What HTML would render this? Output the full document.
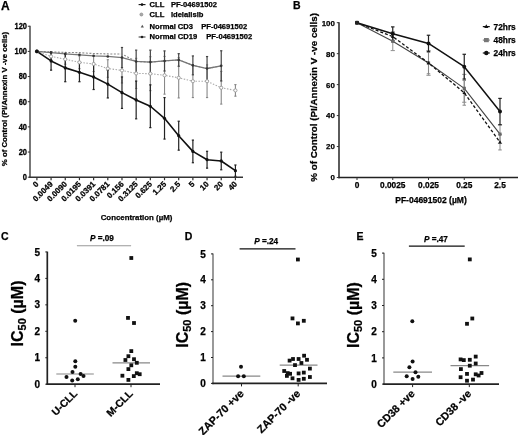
<!DOCTYPE html>
<html><head><meta charset="utf-8"><style>
html,body{margin:0;padding:0;background:#fff;}
svg{display:block;font-family:"Liberation Sans", sans-serif;will-change:transform;}
svg text{stroke:#000;stroke-width:0.25px;}
</style></head><body>
<svg width="520" height="435" viewBox="0 0 520 435">
<rect width="520" height="435" fill="#fff"/>
<text x="1.00" y="10.00" font-size="12" text-anchor="start" font-weight="bold" fill="#000" >A</text>
<line x1="30.00" y1="25.74" x2="30.00" y2="177.95" stroke="#555" stroke-width="1.6" />
<line x1="29.20" y1="177.20" x2="243.00" y2="177.20" stroke="#333" stroke-width="1.6" />
<line x1="27.80" y1="177.20" x2="30.00" y2="177.20" stroke="#333" stroke-width="1" />
<text transform="translate(27.00,180.10) scale(1,1.15)" font-size="7.5" text-anchor="end" font-weight="bold" fill="#000" >0</text>
<line x1="27.80" y1="152.04" x2="30.00" y2="152.04" stroke="#333" stroke-width="1" />
<text transform="translate(27.00,154.94) scale(1,1.15)" font-size="7.5" text-anchor="end" font-weight="bold" fill="#000" >20</text>
<line x1="27.80" y1="126.88" x2="30.00" y2="126.88" stroke="#333" stroke-width="1" />
<text transform="translate(27.00,129.78) scale(1,1.15)" font-size="7.5" text-anchor="end" font-weight="bold" fill="#000" >40</text>
<line x1="27.80" y1="101.72" x2="30.00" y2="101.72" stroke="#333" stroke-width="1" />
<text transform="translate(27.00,104.62) scale(1,1.15)" font-size="7.5" text-anchor="end" font-weight="bold" fill="#000" >60</text>
<line x1="27.80" y1="76.56" x2="30.00" y2="76.56" stroke="#333" stroke-width="1" />
<text transform="translate(27.00,79.46) scale(1,1.15)" font-size="7.5" text-anchor="end" font-weight="bold" fill="#000" >80</text>
<line x1="27.80" y1="51.40" x2="30.00" y2="51.40" stroke="#333" stroke-width="1" />
<text transform="translate(27.00,54.30) scale(1,1.15)" font-size="7.5" text-anchor="end" font-weight="bold" fill="#000" >100</text>
<line x1="27.80" y1="26.24" x2="30.00" y2="26.24" stroke="#333" stroke-width="1" />
<text transform="translate(27.00,29.14) scale(1,1.15)" font-size="7.5" text-anchor="end" font-weight="bold" fill="#000" >120</text>
<line x1="36.90" y1="177.20" x2="36.90" y2="180.20" stroke="#333" stroke-width="1.2" />
<text transform="translate(39.20,184.60) rotate(-45)" font-size="8" font-weight="bold" text-anchor="end">0</text>
<line x1="51.08" y1="177.20" x2="51.08" y2="180.20" stroke="#333" stroke-width="1.2" />
<text transform="translate(53.38,184.60) rotate(-45)" font-size="8" font-weight="bold" text-anchor="end">0.0049</text>
<line x1="65.26" y1="177.20" x2="65.26" y2="180.20" stroke="#333" stroke-width="1.2" />
<text transform="translate(67.56,184.60) rotate(-45)" font-size="8" font-weight="bold" text-anchor="end">0.0090</text>
<line x1="79.44" y1="177.20" x2="79.44" y2="180.20" stroke="#333" stroke-width="1.2" />
<text transform="translate(81.74,184.60) rotate(-45)" font-size="8" font-weight="bold" text-anchor="end">0.0195</text>
<line x1="93.62" y1="177.20" x2="93.62" y2="180.20" stroke="#333" stroke-width="1.2" />
<text transform="translate(95.92,184.60) rotate(-45)" font-size="8" font-weight="bold" text-anchor="end">0.0391</text>
<line x1="107.80" y1="177.20" x2="107.80" y2="180.20" stroke="#333" stroke-width="1.2" />
<text transform="translate(110.10,184.60) rotate(-45)" font-size="8" font-weight="bold" text-anchor="end">0.0781</text>
<line x1="121.98" y1="177.20" x2="121.98" y2="180.20" stroke="#333" stroke-width="1.2" />
<text transform="translate(124.28,184.60) rotate(-45)" font-size="8" font-weight="bold" text-anchor="end">0.156</text>
<line x1="136.16" y1="177.20" x2="136.16" y2="180.20" stroke="#333" stroke-width="1.2" />
<text transform="translate(138.46,184.60) rotate(-45)" font-size="8" font-weight="bold" text-anchor="end">0.3125</text>
<line x1="150.34" y1="177.20" x2="150.34" y2="180.20" stroke="#333" stroke-width="1.2" />
<text transform="translate(152.64,184.60) rotate(-45)" font-size="8" font-weight="bold" text-anchor="end">0.625</text>
<line x1="164.52" y1="177.20" x2="164.52" y2="180.20" stroke="#333" stroke-width="1.2" />
<text transform="translate(166.82,184.60) rotate(-45)" font-size="8" font-weight="bold" text-anchor="end">1.25</text>
<line x1="178.70" y1="177.20" x2="178.70" y2="180.20" stroke="#333" stroke-width="1.2" />
<text transform="translate(181.00,184.60) rotate(-45)" font-size="8" font-weight="bold" text-anchor="end">2.5</text>
<line x1="192.88" y1="177.20" x2="192.88" y2="180.20" stroke="#333" stroke-width="1.2" />
<text transform="translate(195.18,184.60) rotate(-45)" font-size="8" font-weight="bold" text-anchor="end">5</text>
<line x1="207.06" y1="177.20" x2="207.06" y2="180.20" stroke="#333" stroke-width="1.2" />
<text transform="translate(209.36,184.60) rotate(-45)" font-size="8" font-weight="bold" text-anchor="end">10</text>
<line x1="221.24" y1="177.20" x2="221.24" y2="180.20" stroke="#333" stroke-width="1.2" />
<text transform="translate(223.54,184.60) rotate(-45)" font-size="8" font-weight="bold" text-anchor="end">20</text>
<line x1="235.42" y1="177.20" x2="235.42" y2="180.20" stroke="#333" stroke-width="1.2" />
<text transform="translate(237.72,184.60) rotate(-45)" font-size="8" font-weight="bold" text-anchor="end">40</text>
<text x="136.50" y="220.00" font-size="7.85" text-anchor="middle" font-weight="bold" fill="#000" >Concentration (µM)</text>
<text transform="translate(6.9,99) rotate(-90)" font-size="7.8" font-weight="bold" text-anchor="middle">% of Control (PI/Annexin V -ve cells)</text>
<line x1="51.08" y1="52.66" x2="51.08" y2="60.21" stroke="#888" stroke-width="1.1" />
<line x1="49.98" y1="52.66" x2="52.18" y2="52.66" stroke="#888" stroke-width="1.1" />
<line x1="49.98" y1="60.21" x2="52.18" y2="60.21" stroke="#888" stroke-width="1.1" />
<line x1="65.26" y1="54.17" x2="65.26" y2="64.23" stroke="#888" stroke-width="1.1" />
<line x1="64.16" y1="54.17" x2="66.36" y2="54.17" stroke="#888" stroke-width="1.1" />
<line x1="64.16" y1="64.23" x2="66.36" y2="64.23" stroke="#888" stroke-width="1.1" />
<line x1="79.44" y1="56.05" x2="79.44" y2="68.63" stroke="#888" stroke-width="1.1" />
<line x1="78.34" y1="56.05" x2="80.54" y2="56.05" stroke="#888" stroke-width="1.1" />
<line x1="78.34" y1="68.63" x2="80.54" y2="68.63" stroke="#888" stroke-width="1.1" />
<line x1="93.62" y1="56.43" x2="93.62" y2="71.53" stroke="#888" stroke-width="1.1" />
<line x1="92.52" y1="56.43" x2="94.72" y2="56.43" stroke="#888" stroke-width="1.1" />
<line x1="92.52" y1="71.53" x2="94.72" y2="71.53" stroke="#888" stroke-width="1.1" />
<line x1="107.80" y1="59.70" x2="107.80" y2="77.31" stroke="#888" stroke-width="1.1" />
<line x1="106.70" y1="59.70" x2="108.90" y2="59.70" stroke="#888" stroke-width="1.1" />
<line x1="106.70" y1="77.31" x2="108.90" y2="77.31" stroke="#888" stroke-width="1.1" />
<line x1="121.98" y1="57.82" x2="121.98" y2="82.98" stroke="#888" stroke-width="1.1" />
<line x1="120.88" y1="57.82" x2="123.08" y2="57.82" stroke="#888" stroke-width="1.1" />
<line x1="120.88" y1="82.98" x2="123.08" y2="82.98" stroke="#888" stroke-width="1.1" />
<line x1="136.16" y1="58.32" x2="136.16" y2="88.51" stroke="#888" stroke-width="1.1" />
<line x1="135.06" y1="58.32" x2="137.26" y2="58.32" stroke="#888" stroke-width="1.1" />
<line x1="135.06" y1="88.51" x2="137.26" y2="88.51" stroke="#888" stroke-width="1.1" />
<line x1="150.34" y1="56.68" x2="150.34" y2="90.65" stroke="#888" stroke-width="1.1" />
<line x1="149.24" y1="56.68" x2="151.44" y2="56.68" stroke="#888" stroke-width="1.1" />
<line x1="149.24" y1="90.65" x2="151.44" y2="90.65" stroke="#888" stroke-width="1.1" />
<line x1="164.52" y1="56.43" x2="164.52" y2="94.17" stroke="#888" stroke-width="1.1" />
<line x1="163.42" y1="56.43" x2="165.62" y2="56.43" stroke="#888" stroke-width="1.1" />
<line x1="163.42" y1="94.17" x2="165.62" y2="94.17" stroke="#888" stroke-width="1.1" />
<line x1="178.70" y1="57.69" x2="178.70" y2="97.95" stroke="#888" stroke-width="1.1" />
<line x1="177.60" y1="57.69" x2="179.80" y2="57.69" stroke="#888" stroke-width="1.1" />
<line x1="177.60" y1="97.95" x2="179.80" y2="97.95" stroke="#888" stroke-width="1.1" />
<line x1="192.88" y1="64.86" x2="192.88" y2="97.57" stroke="#888" stroke-width="1.1" />
<line x1="191.78" y1="64.86" x2="193.98" y2="64.86" stroke="#888" stroke-width="1.1" />
<line x1="191.78" y1="97.57" x2="193.98" y2="97.57" stroke="#888" stroke-width="1.1" />
<line x1="207.06" y1="64.86" x2="207.06" y2="97.57" stroke="#888" stroke-width="1.1" />
<line x1="205.96" y1="64.86" x2="208.16" y2="64.86" stroke="#888" stroke-width="1.1" />
<line x1="205.96" y1="97.57" x2="208.16" y2="97.57" stroke="#888" stroke-width="1.1" />
<line x1="221.24" y1="71.40" x2="221.24" y2="104.11" stroke="#888" stroke-width="1.1" />
<line x1="220.14" y1="71.40" x2="222.34" y2="71.40" stroke="#888" stroke-width="1.1" />
<line x1="220.14" y1="104.11" x2="222.34" y2="104.11" stroke="#888" stroke-width="1.1" />
<line x1="235.42" y1="84.61" x2="235.42" y2="96.18" stroke="#888" stroke-width="1.1" />
<line x1="234.32" y1="84.61" x2="236.52" y2="84.61" stroke="#888" stroke-width="1.1" />
<line x1="234.32" y1="96.18" x2="236.52" y2="96.18" stroke="#888" stroke-width="1.1" />
<line x1="121.98" y1="47.50" x2="121.98" y2="67.63" stroke="#444" stroke-width="1.2" />
<line x1="120.88" y1="47.50" x2="123.08" y2="47.50" stroke="#444" stroke-width="1.2" />
<line x1="120.88" y1="67.63" x2="123.08" y2="67.63" stroke="#444" stroke-width="1.2" />
<line x1="136.16" y1="50.14" x2="136.16" y2="72.79" stroke="#444" stroke-width="1.2" />
<line x1="135.06" y1="50.14" x2="137.26" y2="50.14" stroke="#444" stroke-width="1.2" />
<line x1="135.06" y1="72.79" x2="137.26" y2="72.79" stroke="#444" stroke-width="1.2" />
<line x1="150.34" y1="50.14" x2="150.34" y2="74.04" stroke="#444" stroke-width="1.2" />
<line x1="149.24" y1="50.14" x2="151.44" y2="50.14" stroke="#444" stroke-width="1.2" />
<line x1="149.24" y1="74.04" x2="151.44" y2="74.04" stroke="#444" stroke-width="1.2" />
<line x1="164.52" y1="50.90" x2="164.52" y2="71.02" stroke="#444" stroke-width="1.2" />
<line x1="163.42" y1="50.90" x2="165.62" y2="50.90" stroke="#444" stroke-width="1.2" />
<line x1="163.42" y1="71.02" x2="165.62" y2="71.02" stroke="#444" stroke-width="1.2" />
<line x1="178.70" y1="53.66" x2="178.70" y2="66.24" stroke="#444" stroke-width="1.2" />
<line x1="177.60" y1="53.66" x2="179.80" y2="53.66" stroke="#444" stroke-width="1.2" />
<line x1="177.60" y1="66.24" x2="179.80" y2="66.24" stroke="#444" stroke-width="1.2" />
<line x1="192.88" y1="55.93" x2="192.88" y2="74.80" stroke="#444" stroke-width="1.2" />
<line x1="191.78" y1="55.93" x2="193.98" y2="55.93" stroke="#444" stroke-width="1.2" />
<line x1="191.78" y1="74.80" x2="193.98" y2="74.80" stroke="#444" stroke-width="1.2" />
<line x1="207.06" y1="56.56" x2="207.06" y2="80.46" stroke="#444" stroke-width="1.2" />
<line x1="205.96" y1="56.56" x2="208.16" y2="56.56" stroke="#444" stroke-width="1.2" />
<line x1="205.96" y1="80.46" x2="208.16" y2="80.46" stroke="#444" stroke-width="1.2" />
<line x1="221.24" y1="50.77" x2="221.24" y2="80.96" stroke="#444" stroke-width="1.2" />
<line x1="220.14" y1="50.77" x2="222.34" y2="50.77" stroke="#444" stroke-width="1.2" />
<line x1="220.14" y1="80.96" x2="222.34" y2="80.96" stroke="#444" stroke-width="1.2" />
<line x1="51.08" y1="51.78" x2="51.08" y2="70.14" stroke="#222" stroke-width="1.2" />
<line x1="49.98" y1="51.78" x2="52.18" y2="51.78" stroke="#222" stroke-width="1.2" />
<line x1="49.98" y1="70.14" x2="52.18" y2="70.14" stroke="#222" stroke-width="1.2" />
<line x1="65.26" y1="54.04" x2="65.26" y2="81.72" stroke="#222" stroke-width="1.2" />
<line x1="64.16" y1="54.04" x2="66.36" y2="54.04" stroke="#222" stroke-width="1.2" />
<line x1="64.16" y1="81.72" x2="66.36" y2="81.72" stroke="#222" stroke-width="1.2" />
<line x1="79.44" y1="62.85" x2="79.44" y2="81.72" stroke="#222" stroke-width="1.2" />
<line x1="78.34" y1="62.85" x2="80.54" y2="62.85" stroke="#222" stroke-width="1.2" />
<line x1="78.34" y1="81.72" x2="80.54" y2="81.72" stroke="#222" stroke-width="1.2" />
<line x1="93.62" y1="64.36" x2="93.62" y2="89.52" stroke="#222" stroke-width="1.2" />
<line x1="92.52" y1="64.36" x2="94.72" y2="64.36" stroke="#222" stroke-width="1.2" />
<line x1="92.52" y1="89.52" x2="94.72" y2="89.52" stroke="#222" stroke-width="1.2" />
<line x1="107.80" y1="70.27" x2="107.80" y2="97.95" stroke="#222" stroke-width="1.2" />
<line x1="106.70" y1="70.27" x2="108.90" y2="70.27" stroke="#222" stroke-width="1.2" />
<line x1="106.70" y1="97.95" x2="108.90" y2="97.95" stroke="#222" stroke-width="1.2" />
<line x1="121.98" y1="76.94" x2="121.98" y2="108.39" stroke="#222" stroke-width="1.2" />
<line x1="120.88" y1="76.94" x2="123.08" y2="76.94" stroke="#222" stroke-width="1.2" />
<line x1="120.88" y1="108.39" x2="123.08" y2="108.39" stroke="#222" stroke-width="1.2" />
<line x1="136.16" y1="81.09" x2="136.16" y2="118.83" stroke="#222" stroke-width="1.2" />
<line x1="135.06" y1="81.09" x2="137.26" y2="81.09" stroke="#222" stroke-width="1.2" />
<line x1="135.06" y1="118.83" x2="137.26" y2="118.83" stroke="#222" stroke-width="1.2" />
<line x1="150.34" y1="84.86" x2="150.34" y2="127.63" stroke="#222" stroke-width="1.2" />
<line x1="149.24" y1="84.86" x2="151.44" y2="84.86" stroke="#222" stroke-width="1.2" />
<line x1="149.24" y1="127.63" x2="151.44" y2="127.63" stroke="#222" stroke-width="1.2" />
<line x1="164.52" y1="97.57" x2="164.52" y2="139.08" stroke="#222" stroke-width="1.2" />
<line x1="163.42" y1="97.57" x2="165.62" y2="97.57" stroke="#222" stroke-width="1.2" />
<line x1="163.42" y1="139.08" x2="165.62" y2="139.08" stroke="#222" stroke-width="1.2" />
<line x1="178.70" y1="121.22" x2="178.70" y2="150.15" stroke="#222" stroke-width="1.2" />
<line x1="177.60" y1="121.22" x2="179.80" y2="121.22" stroke="#222" stroke-width="1.2" />
<line x1="177.60" y1="150.15" x2="179.80" y2="150.15" stroke="#222" stroke-width="1.2" />
<line x1="192.88" y1="140.09" x2="192.88" y2="162.73" stroke="#222" stroke-width="1.2" />
<line x1="191.78" y1="140.09" x2="193.98" y2="140.09" stroke="#222" stroke-width="1.2" />
<line x1="191.78" y1="162.73" x2="193.98" y2="162.73" stroke="#222" stroke-width="1.2" />
<line x1="207.06" y1="151.29" x2="207.06" y2="168.14" stroke="#222" stroke-width="1.2" />
<line x1="205.96" y1="151.29" x2="208.16" y2="151.29" stroke="#222" stroke-width="1.2" />
<line x1="205.96" y1="168.14" x2="208.16" y2="168.14" stroke="#222" stroke-width="1.2" />
<line x1="221.24" y1="152.17" x2="221.24" y2="169.78" stroke="#222" stroke-width="1.2" />
<line x1="220.14" y1="152.17" x2="222.34" y2="152.17" stroke="#222" stroke-width="1.2" />
<line x1="220.14" y1="169.78" x2="222.34" y2="169.78" stroke="#222" stroke-width="1.2" />
<line x1="235.42" y1="165.00" x2="235.42" y2="176.32" stroke="#222" stroke-width="1.2" />
<line x1="234.32" y1="165.00" x2="236.52" y2="165.00" stroke="#222" stroke-width="1.2" />
<line x1="234.32" y1="176.32" x2="236.52" y2="176.32" stroke="#222" stroke-width="1.2" />
<polyline points="36.90,51.40 51.08,56.43 65.26,59.20 79.44,62.34 93.62,63.98 107.80,68.51 121.98,70.40 136.16,73.41 150.34,73.67 164.52,75.30 178.70,77.82 192.88,81.21 207.06,81.21 221.24,87.76 235.42,90.40" fill="none" stroke="#aaa" stroke-width="1.1" stroke-linejoin="round" stroke-dasharray="1.5,1.5"/>
<polyline points="36.90,51.40 51.08,51.90 65.26,52.41 79.44,52.66 93.62,53.54 107.80,53.92 121.98,54.04 136.16,61.46 150.34,62.09 164.52,60.96 178.70,59.95 192.88,65.36 207.06,68.51 221.24,65.87" fill="none" stroke="#888" stroke-width="1.1" stroke-linejoin="round" stroke-dasharray="2,1.5"/>
<polyline points="36.90,51.40 51.08,52.66 65.26,53.92 79.44,54.80 93.62,55.80 107.80,56.43 121.98,57.56 136.16,61.46 150.34,62.09 164.52,60.96 178.70,59.95 192.88,65.36 207.06,68.51 221.24,65.87" fill="none" stroke="#777" stroke-width="1.3" stroke-linejoin="round" />
<polyline points="36.90,51.40 51.08,60.96 65.26,67.88 79.44,72.28 93.62,76.94 107.80,84.11 121.98,92.66 136.16,99.96 150.34,106.25 164.52,118.33 178.70,135.69 192.88,151.41 207.06,159.71 221.24,160.97 235.42,170.66" fill="none" stroke="#111" stroke-width="1.6" stroke-linejoin="round" />
<circle cx="36.90" cy="51.40" r="1.6" fill="#fff" stroke="#999" stroke-width="0.9"/>
<circle cx="51.08" cy="56.43" r="1.6" fill="#fff" stroke="#999" stroke-width="0.9"/>
<circle cx="65.26" cy="59.20" r="1.6" fill="#fff" stroke="#999" stroke-width="0.9"/>
<circle cx="79.44" cy="62.34" r="1.6" fill="#fff" stroke="#999" stroke-width="0.9"/>
<circle cx="93.62" cy="63.98" r="1.6" fill="#fff" stroke="#999" stroke-width="0.9"/>
<circle cx="107.80" cy="68.51" r="1.6" fill="#fff" stroke="#999" stroke-width="0.9"/>
<circle cx="121.98" cy="70.40" r="1.6" fill="#fff" stroke="#999" stroke-width="0.9"/>
<circle cx="136.16" cy="73.41" r="1.6" fill="#fff" stroke="#999" stroke-width="0.9"/>
<circle cx="150.34" cy="73.67" r="1.6" fill="#fff" stroke="#999" stroke-width="0.9"/>
<circle cx="164.52" cy="75.30" r="1.6" fill="#fff" stroke="#999" stroke-width="0.9"/>
<circle cx="178.70" cy="77.82" r="1.6" fill="#fff" stroke="#999" stroke-width="0.9"/>
<circle cx="192.88" cy="81.21" r="1.6" fill="#fff" stroke="#999" stroke-width="0.9"/>
<circle cx="207.06" cy="81.21" r="1.6" fill="#fff" stroke="#999" stroke-width="0.9"/>
<circle cx="221.24" cy="87.76" r="1.6" fill="#fff" stroke="#999" stroke-width="0.9"/>
<circle cx="235.42" cy="90.40" r="1.6" fill="#fff" stroke="#999" stroke-width="0.9"/>
<circle cx="36.90" cy="51.40" r="1.3" fill="#333" stroke="none" stroke-width="0"/>
<circle cx="51.08" cy="52.66" r="1.3" fill="#333" stroke="none" stroke-width="0"/>
<circle cx="65.26" cy="53.92" r="1.3" fill="#333" stroke="none" stroke-width="0"/>
<circle cx="79.44" cy="54.80" r="1.3" fill="#333" stroke="none" stroke-width="0"/>
<circle cx="93.62" cy="55.80" r="1.3" fill="#333" stroke="none" stroke-width="0"/>
<circle cx="107.80" cy="56.43" r="1.3" fill="#333" stroke="none" stroke-width="0"/>
<circle cx="121.98" cy="57.56" r="1.3" fill="#333" stroke="none" stroke-width="0"/>
<circle cx="136.16" cy="61.46" r="1.3" fill="#333" stroke="none" stroke-width="0"/>
<circle cx="150.34" cy="62.09" r="1.3" fill="#333" stroke="none" stroke-width="0"/>
<circle cx="164.52" cy="60.96" r="1.3" fill="#333" stroke="none" stroke-width="0"/>
<circle cx="178.70" cy="59.95" r="1.3" fill="#333" stroke="none" stroke-width="0"/>
<circle cx="192.88" cy="65.36" r="1.3" fill="#333" stroke="none" stroke-width="0"/>
<circle cx="207.06" cy="68.51" r="1.3" fill="#333" stroke="none" stroke-width="0"/>
<circle cx="221.24" cy="65.87" r="1.3" fill="#333" stroke="none" stroke-width="0"/>
<circle cx="36.90" cy="51.40" r="1.6" fill="#111" stroke="none" stroke-width="0"/>
<circle cx="51.08" cy="60.96" r="1.6" fill="#111" stroke="none" stroke-width="0"/>
<circle cx="65.26" cy="67.88" r="1.6" fill="#111" stroke="none" stroke-width="0"/>
<circle cx="79.44" cy="72.28" r="1.6" fill="#111" stroke="none" stroke-width="0"/>
<circle cx="93.62" cy="76.94" r="1.6" fill="#111" stroke="none" stroke-width="0"/>
<circle cx="107.80" cy="84.11" r="1.6" fill="#111" stroke="none" stroke-width="0"/>
<circle cx="121.98" cy="92.66" r="1.6" fill="#111" stroke="none" stroke-width="0"/>
<circle cx="136.16" cy="99.96" r="1.6" fill="#111" stroke="none" stroke-width="0"/>
<circle cx="150.34" cy="106.25" r="1.6" fill="#111" stroke="none" stroke-width="0"/>
<circle cx="164.52" cy="118.33" r="1.6" fill="#111" stroke="none" stroke-width="0"/>
<circle cx="178.70" cy="135.69" r="1.6" fill="#111" stroke="none" stroke-width="0"/>
<circle cx="192.88" cy="151.41" r="1.6" fill="#111" stroke="none" stroke-width="0"/>
<circle cx="207.06" cy="159.71" r="1.6" fill="#111" stroke="none" stroke-width="0"/>
<circle cx="221.24" cy="160.97" r="1.6" fill="#111" stroke="none" stroke-width="0"/>
<circle cx="235.42" cy="170.66" r="1.6" fill="#111" stroke="none" stroke-width="0"/>
<circle cx="36.90" cy="51.40" r="1.8" fill="#111" stroke="none" stroke-width="0"/>
<line x1="138.60" y1="4.60" x2="145.50" y2="4.60" stroke="#111" stroke-width="1.1" />
<circle cx="142.00" cy="4.60" r="1.3" fill="#111" stroke="none" stroke-width="0"/>
<text x="149.60" y="6.80" font-size="7.6" text-anchor="start" font-weight="bold" fill="#000" >CLL</text>
<text x="170.90" y="6.80" font-size="7.6" text-anchor="start" font-weight="bold" fill="#000" >PF-04691502</text>
<circle cx="141.40" cy="14.50" r="1.5" fill="#aaa" stroke="#888" stroke-width="0.7"/>
<text x="149.60" y="17.30" font-size="7.6" text-anchor="start" font-weight="bold" fill="#000" >CLL</text>
<text x="170.90" y="17.30" font-size="7.6" text-anchor="start" font-weight="bold" fill="#000" >Idelalisib</text>
<polygon points="142.30,24.67 143.90,27.55 140.70,27.55" fill="#555"/>
<text x="149.60" y="28.90" font-size="7.6" text-anchor="start" font-weight="bold" fill="#000" >Normal CD3</text>
<text x="201.20" y="28.90" font-size="7.6" text-anchor="start" font-weight="bold" fill="#000" >PF-04691502</text>
<line x1="138.60" y1="37.00" x2="145.50" y2="37.00" stroke="#444" stroke-width="1.1" />
<circle cx="142.00" cy="37.00" r="1.3" fill="#222" stroke="none" stroke-width="0"/>
<text x="149.60" y="39.10" font-size="7.6" text-anchor="start" font-weight="bold" fill="#000" >Normal CD19</text>
<text x="206.20" y="39.10" font-size="7.6" text-anchor="start" font-weight="bold" fill="#000" >PF-04691502</text>
<text x="293.00" y="9.30" font-size="10.5" text-anchor="start" font-weight="bold" fill="#000" >B</text>
<line x1="339.00" y1="22.20" x2="339.00" y2="178.30" stroke="#333" stroke-width="1.6" />
<line x1="338.20" y1="177.50" x2="518.00" y2="177.50" stroke="#222" stroke-width="1.6" />
<line x1="336.80" y1="177.50" x2="339.00" y2="177.50" stroke="#333" stroke-width="1" />
<text x="334.80" y="180.40" font-size="7.9" text-anchor="end" font-weight="bold" fill="#000" >0</text>
<line x1="336.80" y1="146.54" x2="339.00" y2="146.54" stroke="#333" stroke-width="1" />
<text x="334.80" y="149.44" font-size="7.9" text-anchor="end" font-weight="bold" fill="#000" >20</text>
<line x1="336.80" y1="115.58" x2="339.00" y2="115.58" stroke="#333" stroke-width="1" />
<text x="334.80" y="118.48" font-size="7.9" text-anchor="end" font-weight="bold" fill="#000" >40</text>
<line x1="336.80" y1="84.62" x2="339.00" y2="84.62" stroke="#333" stroke-width="1" />
<text x="334.80" y="87.52" font-size="7.9" text-anchor="end" font-weight="bold" fill="#000" >60</text>
<line x1="336.80" y1="53.66" x2="339.00" y2="53.66" stroke="#333" stroke-width="1" />
<text x="334.80" y="56.56" font-size="7.9" text-anchor="end" font-weight="bold" fill="#000" >80</text>
<line x1="336.80" y1="22.70" x2="339.00" y2="22.70" stroke="#333" stroke-width="1" />
<text x="334.80" y="25.60" font-size="7.9" text-anchor="end" font-weight="bold" fill="#000" >100</text>
<line x1="357.00" y1="177.50" x2="357.00" y2="180.00" stroke="#333" stroke-width="1" />
<text x="357.00" y="187.80" font-size="8.3" text-anchor="middle" font-weight="bold" fill="#000" >0</text>
<line x1="392.75" y1="177.50" x2="392.75" y2="180.00" stroke="#333" stroke-width="1" />
<text x="392.75" y="187.80" font-size="8.3" text-anchor="middle" font-weight="bold" fill="#000" >0.0025</text>
<line x1="428.50" y1="177.50" x2="428.50" y2="180.00" stroke="#333" stroke-width="1" />
<text x="428.50" y="187.80" font-size="8.3" text-anchor="middle" font-weight="bold" fill="#000" >0.025</text>
<line x1="464.25" y1="177.50" x2="464.25" y2="180.00" stroke="#333" stroke-width="1" />
<text x="464.25" y="187.80" font-size="8.3" text-anchor="middle" font-weight="bold" fill="#000" >0.25</text>
<line x1="500.00" y1="177.50" x2="500.00" y2="180.00" stroke="#333" stroke-width="1" />
<text x="500.00" y="187.80" font-size="8.3" text-anchor="middle" font-weight="bold" fill="#000" >2.5</text>
<text x="431.00" y="202.60" font-size="8.5" text-anchor="middle" font-weight="bold" fill="#000" >PF-04691502 (µM)</text>
<text transform="translate(316.6,97.4) rotate(-90)" font-size="9.8" font-weight="bold" text-anchor="middle">% of Control (PI/Annexin V -ve cells)</text>
<line x1="392.75" y1="31.99" x2="392.75" y2="50.56" stroke="#999" stroke-width="1.1" />
<line x1="390.65" y1="31.99" x2="394.85" y2="31.99" stroke="#999" stroke-width="1.1" />
<line x1="390.65" y1="50.56" x2="394.85" y2="50.56" stroke="#999" stroke-width="1.1" />
<line x1="392.75" y1="31.99" x2="392.75" y2="41.28" stroke="#888" stroke-width="1.0" />
<line x1="391.00" y1="31.99" x2="394.50" y2="31.99" stroke="#888" stroke-width="1.0" />
<line x1="391.00" y1="41.28" x2="394.50" y2="41.28" stroke="#888" stroke-width="1.0" />
<line x1="392.75" y1="26.88" x2="392.75" y2="40.50" stroke="#222" stroke-width="1.2" />
<line x1="391.00" y1="26.88" x2="394.50" y2="26.88" stroke="#222" stroke-width="1.2" />
<line x1="391.00" y1="40.50" x2="394.50" y2="40.50" stroke="#222" stroke-width="1.2" />
<line x1="428.50" y1="50.56" x2="428.50" y2="75.33" stroke="#999" stroke-width="1.1" />
<line x1="426.40" y1="50.56" x2="430.60" y2="50.56" stroke="#999" stroke-width="1.1" />
<line x1="426.40" y1="75.33" x2="430.60" y2="75.33" stroke="#999" stroke-width="1.1" />
<line x1="428.50" y1="52.11" x2="428.50" y2="73.78" stroke="#888" stroke-width="1.0" />
<line x1="426.75" y1="52.11" x2="430.25" y2="52.11" stroke="#888" stroke-width="1.0" />
<line x1="426.75" y1="73.78" x2="430.25" y2="73.78" stroke="#888" stroke-width="1.0" />
<line x1="428.50" y1="35.24" x2="428.50" y2="51.65" stroke="#222" stroke-width="1.2" />
<line x1="426.75" y1="35.24" x2="430.25" y2="35.24" stroke="#222" stroke-width="1.2" />
<line x1="426.75" y1="51.65" x2="430.25" y2="51.65" stroke="#222" stroke-width="1.2" />
<line x1="464.25" y1="74.40" x2="464.25" y2="102.27" stroke="#999" stroke-width="1.1" />
<line x1="462.15" y1="74.40" x2="466.35" y2="74.40" stroke="#999" stroke-width="1.1" />
<line x1="462.15" y1="102.27" x2="466.35" y2="102.27" stroke="#999" stroke-width="1.1" />
<line x1="464.25" y1="80.44" x2="464.25" y2="105.21" stroke="#888" stroke-width="1.0" />
<line x1="462.50" y1="80.44" x2="466.00" y2="80.44" stroke="#888" stroke-width="1.0" />
<line x1="462.50" y1="105.21" x2="466.00" y2="105.21" stroke="#888" stroke-width="1.0" />
<line x1="464.25" y1="54.28" x2="464.25" y2="79.05" stroke="#222" stroke-width="1.2" />
<line x1="462.50" y1="54.28" x2="466.00" y2="54.28" stroke="#222" stroke-width="1.2" />
<line x1="462.50" y1="79.05" x2="466.00" y2="79.05" stroke="#222" stroke-width="1.2" />
<line x1="500.00" y1="124.87" x2="500.00" y2="143.44" stroke="#999" stroke-width="1.1" />
<line x1="497.90" y1="124.87" x2="502.10" y2="124.87" stroke="#999" stroke-width="1.1" />
<line x1="497.90" y1="143.44" x2="502.10" y2="143.44" stroke="#999" stroke-width="1.1" />
<line x1="500.00" y1="134.47" x2="500.00" y2="149.95" stroke="#888" stroke-width="1.0" />
<line x1="498.25" y1="134.47" x2="501.75" y2="134.47" stroke="#888" stroke-width="1.0" />
<line x1="498.25" y1="149.95" x2="501.75" y2="149.95" stroke="#888" stroke-width="1.0" />
<line x1="500.00" y1="98.40" x2="500.00" y2="124.71" stroke="#222" stroke-width="1.2" />
<line x1="498.25" y1="98.40" x2="501.75" y2="98.40" stroke="#222" stroke-width="1.2" />
<line x1="498.25" y1="124.71" x2="501.75" y2="124.71" stroke="#222" stroke-width="1.2" />
<polyline points="357.00,22.70 392.75,41.28 428.50,62.95 464.25,88.34 500.00,134.16" fill="none" stroke="#444" stroke-width="1.1" stroke-linejoin="round" />
<polyline points="357.00,22.70 392.75,36.63 428.50,62.95 464.25,92.82 500.00,142.21" fill="none" stroke="#111" stroke-width="1.3" stroke-linejoin="round" stroke-dasharray="3,2"/>
<polyline points="357.00,22.70 392.75,33.69 428.50,43.44 464.25,66.66 500.00,111.56" fill="none" stroke="#111" stroke-width="1.5" stroke-linejoin="round" />
<rect x="355.40" y="21.10" width="3.2" height="3.2" fill="#666"/>
<rect x="391.15" y="39.68" width="3.2" height="3.2" fill="#666"/>
<rect x="426.90" y="61.35" width="3.2" height="3.2" fill="#666"/>
<rect x="462.65" y="86.74" width="3.2" height="3.2" fill="#666"/>
<rect x="498.40" y="132.56" width="3.2" height="3.2" fill="#666"/>
<polygon points="357.00,20.76 358.80,24.00 355.20,24.00" fill="#111"/>
<polygon points="392.75,34.69 394.55,37.93 390.95,37.93" fill="#111"/>
<polygon points="428.50,61.00 430.30,64.24 426.70,64.24" fill="#111"/>
<polygon points="464.25,90.88 466.05,94.12 462.45,94.12" fill="#111"/>
<polygon points="500.00,140.26 501.80,143.50 498.20,143.50" fill="#111"/>
<circle cx="357.00" cy="22.70" r="2.0" fill="#111" stroke="none" stroke-width="0"/>
<circle cx="392.75" cy="33.69" r="2.0" fill="#111" stroke="none" stroke-width="0"/>
<circle cx="428.50" cy="43.44" r="2.0" fill="#111" stroke="none" stroke-width="0"/>
<circle cx="464.25" cy="66.66" r="2.0" fill="#111" stroke="none" stroke-width="0"/>
<circle cx="500.00" cy="111.56" r="2.0" fill="#111" stroke="none" stroke-width="0"/>
<rect x="355.20" y="20.90" width="3.6" height="3.6" fill="#222"/>
<line x1="482.80" y1="26.60" x2="489.80" y2="26.60" stroke="#111" stroke-width="1.2" />
<polygon points="486.30,24.33 488.40,28.11 484.20,28.11" fill="#111"/>
<text x="493.60" y="29.60" font-size="8.3" text-anchor="start" font-weight="bold" fill="#000" >72hrs</text>
<line x1="482.80" y1="40.10" x2="489.80" y2="40.10" stroke="#888" stroke-width="1.2" />
<rect x="484" y="38" width="4.8" height="4.2" fill="#777"/>
<text x="493.60" y="42.80" font-size="8.3" text-anchor="start" font-weight="bold" fill="#000" >48hrs</text>
<line x1="482.80" y1="53.00" x2="489.80" y2="53.00" stroke="#111" stroke-width="1.2" />
<circle cx="486.30" cy="53.00" r="2.2" fill="#111" stroke="none" stroke-width="0"/>
<text x="493.60" y="55.90" font-size="8.3" text-anchor="start" font-weight="bold" fill="#000" >24hrs</text>
<text x="1.00" y="239.70" font-size="10.5" text-anchor="start" font-weight="bold" fill="#000" >C</text>
<line x1="47.30" y1="251.65" x2="47.30" y2="385.00" stroke="#222" stroke-width="1.7" />
<line x1="46.50" y1="384.20" x2="160.00" y2="384.20" stroke="#222" stroke-width="1.7" />
<line x1="45.30" y1="384.20" x2="47.30" y2="384.20" stroke="#222" stroke-width="1" />
<text x="40.00" y="387.80" font-size="10" text-anchor="end" font-weight="bold" fill="#000" >0</text>
<line x1="45.30" y1="357.75" x2="47.30" y2="357.75" stroke="#222" stroke-width="1" />
<text x="40.00" y="361.35" font-size="10" text-anchor="end" font-weight="bold" fill="#000" >1</text>
<line x1="45.30" y1="331.30" x2="47.30" y2="331.30" stroke="#222" stroke-width="1" />
<text x="40.00" y="334.90" font-size="10" text-anchor="end" font-weight="bold" fill="#000" >2</text>
<line x1="45.30" y1="304.85" x2="47.30" y2="304.85" stroke="#222" stroke-width="1" />
<text x="40.00" y="308.45" font-size="10" text-anchor="end" font-weight="bold" fill="#000" >3</text>
<line x1="45.30" y1="278.40" x2="47.30" y2="278.40" stroke="#222" stroke-width="1" />
<text x="40.00" y="282.00" font-size="10" text-anchor="end" font-weight="bold" fill="#000" >4</text>
<line x1="45.30" y1="251.95" x2="47.30" y2="251.95" stroke="#222" stroke-width="1" />
<text x="40.00" y="255.55" font-size="10" text-anchor="end" font-weight="bold" fill="#000" >5</text>
<line x1="75.00" y1="384.20" x2="75.00" y2="387.20" stroke="#222" stroke-width="1" />
<line x1="131.00" y1="384.20" x2="131.00" y2="387.20" stroke="#222" stroke-width="1" />
<text transform="translate(78.00,394.30) rotate(-45)" font-size="10.4" font-weight="bold" text-anchor="end">U-CLL</text>
<text transform="translate(133.50,394.30) rotate(-45)" font-size="10.4" font-weight="bold" text-anchor="end">M-CLL</text>
<line x1="56.30" y1="374.00" x2="93.80" y2="374.00" stroke="#888" stroke-width="1.2" />
<line x1="112.50" y1="362.80" x2="150.00" y2="362.80" stroke="#888" stroke-width="1.2" />
<circle cx="75.30" cy="361.30" r="2.0" fill="#111" stroke="none" stroke-width="0"/>
<circle cx="75.30" cy="366.80" r="2.0" fill="#111" stroke="none" stroke-width="0"/>
<circle cx="72.50" cy="371.90" r="2.0" fill="#111" stroke="none" stroke-width="0"/>
<circle cx="80.60" cy="373.90" r="2.0" fill="#111" stroke="none" stroke-width="0"/>
<circle cx="83.50" cy="376.10" r="2.0" fill="#111" stroke="none" stroke-width="0"/>
<circle cx="66.50" cy="377.10" r="2.0" fill="#111" stroke="none" stroke-width="0"/>
<circle cx="77.80" cy="379.20" r="2.0" fill="#111" stroke="none" stroke-width="0"/>
<circle cx="72.20" cy="380.50" r="2.0" fill="#111" stroke="none" stroke-width="0"/>
<circle cx="75.20" cy="320.80" r="2.0" fill="#111" stroke="none" stroke-width="0"/>
<rect x="129.40" y="349.20" width="3.8" height="3.8" fill="#111"/>
<rect x="126.50" y="354.30" width="3.8" height="3.8" fill="#111"/>
<rect x="123.50" y="358.10" width="3.8" height="3.8" fill="#111"/>
<rect x="132.10" y="357.30" width="3.8" height="3.8" fill="#111"/>
<rect x="134.90" y="360.90" width="3.8" height="3.8" fill="#111"/>
<rect x="129.40" y="363.40" width="3.8" height="3.8" fill="#111"/>
<rect x="126.50" y="367.20" width="3.8" height="3.8" fill="#111"/>
<rect x="120.50" y="373.80" width="3.8" height="3.8" fill="#111"/>
<rect x="131.90" y="374.20" width="3.8" height="3.8" fill="#111"/>
<rect x="134.90" y="371.30" width="3.8" height="3.8" fill="#111"/>
<rect x="137.80" y="372.30" width="3.8" height="3.8" fill="#111"/>
<rect x="126.50" y="378.00" width="3.8" height="3.8" fill="#111"/>
<rect x="126.10" y="316.00" width="3.8" height="3.8" fill="#111"/>
<rect x="132.10" y="321.10" width="3.8" height="3.8" fill="#111"/>
<rect x="129.40" y="256.10" width="3.8" height="3.8" fill="#111"/>
<line x1="76.90" y1="245.80" x2="131.10" y2="245.80" stroke="#999" stroke-width="1.1" />
<text x="90.00" y="241.00" font-size="8.2" font-weight="bold"><tspan font-style="italic">P</tspan> =.09</text>
<text transform="translate(23.00,346.40) rotate(-90)" font-size="16" font-weight="bold">IC<tspan font-size="11" dy="3">50</tspan><tspan dy="-3"> (µM)</tspan></text>
<text x="184.70" y="239.70" font-size="10.5" text-anchor="start" font-weight="bold" fill="#000" >D</text>
<line x1="213.00" y1="253.60" x2="213.00" y2="384.20" stroke="#888" stroke-width="1.7" />
<line x1="212.20" y1="383.40" x2="327.00" y2="383.40" stroke="#222" stroke-width="1.7" />
<line x1="211.00" y1="383.40" x2="213.00" y2="383.40" stroke="#222" stroke-width="1" />
<text x="205.70" y="387.00" font-size="10" text-anchor="end" font-weight="bold" fill="#000" >0</text>
<line x1="211.00" y1="357.50" x2="213.00" y2="357.50" stroke="#222" stroke-width="1" />
<text x="205.70" y="361.10" font-size="10" text-anchor="end" font-weight="bold" fill="#000" >1</text>
<line x1="211.00" y1="331.60" x2="213.00" y2="331.60" stroke="#222" stroke-width="1" />
<text x="205.70" y="335.20" font-size="10" text-anchor="end" font-weight="bold" fill="#000" >2</text>
<line x1="211.00" y1="305.70" x2="213.00" y2="305.70" stroke="#222" stroke-width="1" />
<text x="205.70" y="309.30" font-size="10" text-anchor="end" font-weight="bold" fill="#000" >3</text>
<line x1="211.00" y1="279.80" x2="213.00" y2="279.80" stroke="#222" stroke-width="1" />
<text x="205.70" y="283.40" font-size="10" text-anchor="end" font-weight="bold" fill="#000" >4</text>
<line x1="211.00" y1="253.90" x2="213.00" y2="253.90" stroke="#222" stroke-width="1" />
<text x="205.70" y="257.50" font-size="10" text-anchor="end" font-weight="bold" fill="#000" >5</text>
<line x1="241.50" y1="383.40" x2="241.50" y2="386.40" stroke="#222" stroke-width="1" />
<line x1="298.20" y1="383.40" x2="298.20" y2="386.40" stroke="#222" stroke-width="1" />
<text transform="translate(244.50,394.30) rotate(-45)" font-size="10.8" font-weight="bold" text-anchor="end">ZAP-70 +ve</text>
<text transform="translate(301.00,394.30) rotate(-45)" font-size="10.8" font-weight="bold" text-anchor="end">ZAP-70 -ve</text>
<line x1="222.50" y1="376.20" x2="260.30" y2="376.20" stroke="#888" stroke-width="1.2" />
<line x1="279.70" y1="365.10" x2="317.50" y2="365.10" stroke="#888" stroke-width="1.2" />
<circle cx="241.00" cy="366.70" r="2.0" fill="#111" stroke="none" stroke-width="0"/>
<circle cx="238.10" cy="376.20" r="2.0" fill="#111" stroke="none" stroke-width="0"/>
<circle cx="243.80" cy="376.20" r="2.0" fill="#111" stroke="none" stroke-width="0"/>
<rect x="302.20" y="353.80" width="3.8" height="3.8" fill="#111"/>
<rect x="305.10" y="357.90" width="3.8" height="3.8" fill="#111"/>
<rect x="296.70" y="357.10" width="3.8" height="3.8" fill="#111"/>
<rect x="291.10" y="357.10" width="3.8" height="3.8" fill="#111"/>
<rect x="287.70" y="358.70" width="3.8" height="3.8" fill="#111"/>
<rect x="299.50" y="361.10" width="3.8" height="3.8" fill="#111"/>
<rect x="293.10" y="363.20" width="3.8" height="3.8" fill="#111"/>
<rect x="308.00" y="366.70" width="3.8" height="3.8" fill="#111"/>
<rect x="282.30" y="369.10" width="3.8" height="3.8" fill="#111"/>
<rect x="285.80" y="371.20" width="3.8" height="3.8" fill="#111"/>
<rect x="288.20" y="371.90" width="3.8" height="3.8" fill="#111"/>
<rect x="301.90" y="370.70" width="3.8" height="3.8" fill="#111"/>
<rect x="296.70" y="371.50" width="3.8" height="3.8" fill="#111"/>
<rect x="285.00" y="374.00" width="3.8" height="3.8" fill="#111"/>
<rect x="308.00" y="375.10" width="3.8" height="3.8" fill="#111"/>
<rect x="290.60" y="376.40" width="3.8" height="3.8" fill="#111"/>
<rect x="301.90" y="376.90" width="3.8" height="3.8" fill="#111"/>
<rect x="296.70" y="378.00" width="3.8" height="3.8" fill="#111"/>
<rect x="296.00" y="257.60" width="3.8" height="3.8" fill="#111"/>
<rect x="290.60" y="316.50" width="3.8" height="3.8" fill="#111"/>
<rect x="296.00" y="321.50" width="3.8" height="3.8" fill="#111"/>
<rect x="301.90" y="318.90" width="3.8" height="3.8" fill="#111"/>
<line x1="239.60" y1="248.80" x2="295.50" y2="248.80" stroke="#111" stroke-width="1.3" />
<text x="254.20" y="243.50" font-size="8.2" font-weight="bold"><tspan font-style="italic">P</tspan> =.24</text>
<text transform="translate(187.80,347.80) rotate(-90)" font-size="16" font-weight="bold">IC<tspan font-size="11" dy="3">50</tspan><tspan dy="-3"> (µM)</tspan></text>
<text x="356.60" y="239.70" font-size="10.5" text-anchor="start" font-weight="bold" fill="#000" >E</text>
<line x1="384.00" y1="252.80" x2="384.00" y2="384.90" stroke="#888" stroke-width="1.7" />
<line x1="383.20" y1="384.10" x2="499.00" y2="384.10" stroke="#222" stroke-width="1.7" />
<line x1="382.00" y1="384.10" x2="384.00" y2="384.10" stroke="#222" stroke-width="1" />
<text x="376.70" y="387.70" font-size="10" text-anchor="end" font-weight="bold" fill="#000" >0</text>
<line x1="382.00" y1="357.90" x2="384.00" y2="357.90" stroke="#222" stroke-width="1" />
<text x="376.70" y="361.50" font-size="10" text-anchor="end" font-weight="bold" fill="#000" >1</text>
<line x1="382.00" y1="331.70" x2="384.00" y2="331.70" stroke="#222" stroke-width="1" />
<text x="376.70" y="335.30" font-size="10" text-anchor="end" font-weight="bold" fill="#000" >2</text>
<line x1="382.00" y1="305.50" x2="384.00" y2="305.50" stroke="#222" stroke-width="1" />
<text x="376.70" y="309.10" font-size="10" text-anchor="end" font-weight="bold" fill="#000" >3</text>
<line x1="382.00" y1="279.30" x2="384.00" y2="279.30" stroke="#222" stroke-width="1" />
<text x="376.70" y="282.90" font-size="10" text-anchor="end" font-weight="bold" fill="#000" >4</text>
<line x1="382.00" y1="253.10" x2="384.00" y2="253.10" stroke="#222" stroke-width="1" />
<text x="376.70" y="256.70" font-size="10" text-anchor="end" font-weight="bold" fill="#000" >5</text>
<line x1="412.60" y1="384.10" x2="412.60" y2="387.10" stroke="#222" stroke-width="1" />
<line x1="469.30" y1="384.10" x2="469.30" y2="387.10" stroke="#222" stroke-width="1" />
<text transform="translate(415.50,394.30) rotate(-45)" font-size="10.7" font-weight="bold" text-anchor="end">CD38 +ve</text>
<text transform="translate(472.00,394.30) rotate(-45)" font-size="10.7" font-weight="bold" text-anchor="end">CD38 -ve</text>
<line x1="393.30" y1="372.20" x2="432.00" y2="372.20" stroke="#888" stroke-width="1.2" />
<line x1="450.50" y1="365.70" x2="489.10" y2="365.70" stroke="#888" stroke-width="1.2" />
<circle cx="412.60" cy="361.40" r="2.0" fill="#111" stroke="none" stroke-width="0"/>
<circle cx="409.40" cy="367.30" r="2.0" fill="#111" stroke="none" stroke-width="0"/>
<circle cx="415.50" cy="372.20" r="2.0" fill="#111" stroke="none" stroke-width="0"/>
<circle cx="406.70" cy="376.30" r="2.0" fill="#111" stroke="none" stroke-width="0"/>
<circle cx="418.30" cy="376.70" r="2.0" fill="#111" stroke="none" stroke-width="0"/>
<circle cx="412.60" cy="379.10" r="2.0" fill="#111" stroke="none" stroke-width="0"/>
<circle cx="412.30" cy="321.30" r="2.0" fill="#111" stroke="none" stroke-width="0"/>
<rect x="473.80" y="354.70" width="3.8" height="3.8" fill="#111"/>
<rect x="458.70" y="357.50" width="3.8" height="3.8" fill="#111"/>
<rect x="461.90" y="358.20" width="3.8" height="3.8" fill="#111"/>
<rect x="467.90" y="357.90" width="3.8" height="3.8" fill="#111"/>
<rect x="473.80" y="361.60" width="3.8" height="3.8" fill="#111"/>
<rect x="467.90" y="363.80" width="3.8" height="3.8" fill="#111"/>
<rect x="459.00" y="367.20" width="3.8" height="3.8" fill="#111"/>
<rect x="465.10" y="372.00" width="3.8" height="3.8" fill="#111"/>
<rect x="473.80" y="372.40" width="3.8" height="3.8" fill="#111"/>
<rect x="476.70" y="373.60" width="3.8" height="3.8" fill="#111"/>
<rect x="479.60" y="371.10" width="3.8" height="3.8" fill="#111"/>
<rect x="458.70" y="375.30" width="3.8" height="3.8" fill="#111"/>
<rect x="471.10" y="377.70" width="3.8" height="3.8" fill="#111"/>
<rect x="465.10" y="378.80" width="3.8" height="3.8" fill="#111"/>
<rect x="467.90" y="257.50" width="3.8" height="3.8" fill="#111"/>
<rect x="470.40" y="316.60" width="3.8" height="3.8" fill="#111"/>
<rect x="465.10" y="321.90" width="3.8" height="3.8" fill="#111"/>
<line x1="408.90" y1="246.10" x2="464.70" y2="246.10" stroke="#111" stroke-width="1.3" />
<text x="424.00" y="242.00" font-size="8.2" font-weight="bold"><tspan font-style="italic">P</tspan> =.47</text>
<text transform="translate(359.00,348.00) rotate(-90)" font-size="16" font-weight="bold">IC<tspan font-size="11" dy="3">50</tspan><tspan dy="-3"> (µM)</tspan></text>
</svg></body></html>
